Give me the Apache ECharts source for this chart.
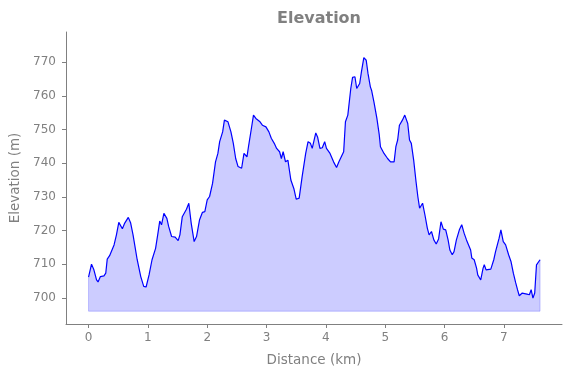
<!DOCTYPE html>
<html>
<head>
<meta charset="utf-8">
<script src="https://cdn.jsdelivr.net/npm/echarts@6/dist/echarts.min.js"></script>
<style>html,body{margin:0;padding:0;background:#fff}#c{width:571px;height:378px}</style>
</head>
<body>
<div id="c"></div>
<script>
const distanceKm = [0.00,0.05,0.09,0.135,0.16,0.20,0.26,0.29,0.315,0.355,0.43,0.47,0.51,0.54,0.57,0.61,0.67,0.71,0.75,0.82,0.88,0.93,0.97,1.02,1.07,1.13,1.17,1.20,1.23,1.27,1.32,1.35,1.40,1.46,1.48,1.51,1.54,1.58,1.61,1.65,1.69,1.73,1.78,1.82,1.87,1.92,1.96,2.00,2.04,2.09,2.14,2.18,2.21,2.26,2.29,2.35,2.40,2.44,2.48,2.52,2.58,2.62,2.67,2.70,2.74,2.78,2.82,2.85,2.89,2.93,2.99,3.04,3.08,3.13,3.17,3.22,3.25,3.28,3.32,3.36,3.41,3.46,3.50,3.55,3.60,3.66,3.70,3.74,3.77,3.83,3.86,3.90,3.94,3.98,4.01,4.07,4.13,4.18,4.22,4.30,4.33,4.37,4.42,4.45,4.49,4.52,4.57,4.60,4.64,4.68,4.71,4.75,4.77,4.81,4.86,4.90,4.92,4.95,4.98,5.04,5.09,5.15,5.18,5.21,5.24,5.29,5.33,5.36,5.38,5.41,5.44,5.48,5.52,5.55,5.58,5.63,5.67,5.71,5.74,5.78,5.82,5.86,5.90,5.94,5.98,6.02,6.06,6.09,6.13,6.16,6.20,6.25,6.29,6.33,6.37,6.40,6.44,6.46,6.50,6.54,6.56,6.61,6.65,6.67,6.70,6.72,6.78,6.83,6.86,6.89,6.92,6.95,6.99,7.03,7.08,7.12,7.16,7.20,7.23,7.26,7.31,7.34,7.39,7.43,7.46,7.49,7.52,7.55,7.58,7.61];
const elevationM = [706.1,710.0,708.3,705.3,704.7,706.3,706.5,707.3,711.5,712.5,715.7,718.7,722.4,722.3,720.5,722.2,723.9,722.2,718.7,711.3,706.3,703.4,703.2,706.8,711.3,714.7,719.2,722.8,721.7,725.1,723.6,721.2,718.2,718.0,718.4,717.0,718.7,724.1,723.6,726.3,728.1,722.2,716.7,718.2,723.1,725.4,725.6,729.1,730.1,734.0,740.4,742.9,746.4,749.3,752.8,752.3,749.3,745.9,741.4,739.0,738.5,742.9,741.9,745.4,749.8,754.3,753.3,753.8,752.3,751.3,750.8,749.3,747.4,745.9,744.4,743.4,741.4,743.4,740.4,740.9,735.0,732.5,729.3,729.6,736.0,742.9,746.4,745.9,744.4,749.0,747.8,744.4,744.6,746.4,744.4,742.9,740.4,738.7,740.4,743.4,752.3,754.3,762.2,765.5,765.7,762.2,763.7,767.2,771.4,770.6,766.7,762.7,761.7,758.2,753.3,748.4,744.9,744.4,742.9,741.4,740.4,740.4,744.9,746.9,751.3,752.8,754.3,753.8,751.8,746.9,745.9,740.9,734.5,730.1,726.6,728.1,724.6,720.7,718.7,719.7,717.2,716.0,717.5,722.6,720.4,720.2,717.2,714.2,712.8,713.7,717.2,720.2,721.7,719.2,717.2,716.7,714.2,711.8,711.3,708.8,706.8,705.3,708.8,709.8,708.3,708.8,708.5,711.3,713.7,715.7,717.7,720.2,716.7,715.7,712.8,710.8,707.3,704.4,702.4,700.6,701.4,700.9,701.1,700.9,702.4,699.9,701.4,709.8,709.8,711.3];
const fillBase = 696;
const xTicks = [0,1,2,3,4,5,6,7];
const yTicks = [700,710,720,730,740,750,760,770];
const titleText = 'Elevation';
const xName = 'Distance (km)';
const yName = 'Elevation (m)';

const lineData = distanceKm.map((d, i) => [d, elevationM[i]]);
const n = distanceKm.length;
const edgeData = [[distanceKm[0], elevationM[0]], [distanceKm[0], fillBase], [distanceKm[n-1], fillBase], [distanceKm[n-1], elevationM[n-1]]];

const gray = '#808080';
const font = 'DejaVu Sans';
const chart = echarts.init(document.getElementById('c'), null, {renderer: 'canvas'});
chart.setOption({
  animation: false,
  backgroundColor: '#fff',
  title: {
    text: titleText, left: 314, top: 6, textAlign: 'center',
    textStyle: {fontFamily: font, fontSize: 16, fontWeight: 'bold', color: gray}
  },
  grid: {left: 66, right: 9, top: 32, bottom: 54, containLabel: false, outerBoundsMode: 'none'},
  xAxis: {
    type: 'value', min: -0.38, max: 7.98,
    name: xName, nameLocation: 'middle', nameGap: 29,
    nameTextStyle: {fontFamily: font, fontSize: 13.5, color: gray},
    axisLine: {show: true, onZero: false, lineStyle: {color: gray, width: 1}},
    axisTick: {show: true, length: 4, inside: false, customValues: xTicks, lineStyle: {color: gray}},
    axisLabel: {customValues: xTicks, fontFamily: font, fontSize: 12, color: gray, margin: 8},
    splitLine: {show: false}
  },
  yAxis: {
    type: 'value', min: 692.2, max: 779,
    name: yName, nameLocation: 'middle', nameGap: 41,
    nameTextStyle: {fontFamily: font, fontSize: 13.5, color: gray},
    axisLine: {show: true, onZero: false, lineStyle: {color: gray, width: 1}},
    axisTick: {show: true, length: 4, inside: false, customValues: yTicks, lineStyle: {color: gray}},
    axisLabel: {customValues: yTicks, fontFamily: font, fontSize: 12, color: gray, margin: 10},
    splitLine: {show: false}
  },
  series: [
    {
      type: 'line', data: lineData, showSymbol: false, symbol: 'none',
      lineStyle: {color: '#0000ff', width: 1.2},
      areaStyle: {color: 'rgba(0,0,255,0.2)', origin: fillBase, opacity: 1},
      z: 3
    },
    {
      type: 'line', data: edgeData, showSymbol: false, symbol: 'none',
      lineStyle: {color: 'rgba(0,0,255,0.2)', width: 1},
      z: 2
    }
  ]
});
</script>
</body>
</html>
